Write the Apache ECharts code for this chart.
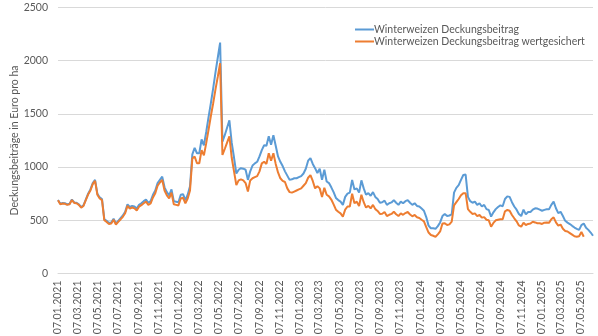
<!DOCTYPE html>
<html>
<head>
<meta charset="utf-8">
<script src="https://cdn.jsdelivr.net/npm/echarts@6/dist/echarts.min.js"></script>
<style>html,body{margin:0;padding:0;background:#fff}#c{width:598px;height:336px}</style>
</head>
<body>
<div id="c"></div>
<script>
// Axis range (first and last weekly date, Thursdays)
const startDate = '2021-01-07';
const endDate = '2025-06-12';
const yTicks = [0, 500, 1000, 1500, 2000, 2500];
const seriesNames = ['Winterweizen Deckungsbeitrag', 'Winterweizen Deckungsbeitrag wertgesichert'];
const yAxisTitle = 'Deckungsbeiträge in Euro pro ha';

// Weekly values, starting 07.01.2021
const deckungsbeitrag = [
690,655,662,660,650,655,695,668,665,650,625,640,695,750,790,850,880,750,715,700,
510,495,475,480,515,470,495,520,545,580,650,625,635,630,610,645,660,680,695,665,
680,740,780,850,880,910,810,765,735,790,680,675,670,740,745,690,740,820,1120,1180,
1130,1130,1260,1205,1330,1470,1600,1740,1890,2030,2170,1240,1300,1370,1440,1230,1090,940,975,990,
985,975,880,960,1015,1035,1050,1100,1160,1205,1200,1290,1210,1300,1200,1100,1050,1010,960,920,
880,885,895,895,905,915,940,985,1060,1085,1030,990,945,985,880,975,865,850,810,765,
710,690,675,645,720,750,760,880,790,800,760,875,800,740,755,730,765,720,700,665,
670,685,645,660,668,690,665,645,675,660,680,690,665,645,660,635,630,610,590,530,
450,425,425,420,445,480,540,560,540,545,555,760,805,830,880,926,930,720,680,665,
675,645,660,630,645,605,597,535,575,605,625,640,632,700,725,720,670,630,600,560,
540,600,556,578,578,600,613,610,600,590,598,603,603,645,675,613,568,580,540,495,
478,465,448,432,420,410,455,470,430,410,385,355
];
const deckungsbeitragWertgesichert = [
688,650,658,655,645,650,690,663,660,645,618,635,690,742,780,840,870,740,705,690,
500,485,466,470,505,460,485,508,533,566,636,610,620,612,592,628,642,660,675,645,
658,715,755,825,855,880,780,735,705,760,650,645,640,705,712,660,705,780,1080,1100,
1036,1036,1160,1110,1225,1350,1480,1600,1730,1850,1976,1114,1170,1230,1290,1090,960,830,875,885,
875,850,770,875,895,905,915,960,1035,1050,1030,1130,1060,1130,1030,950,895,870,860,800,
765,760,770,780,790,800,825,850,900,925,870,800,820,800,720,805,740,725,695,650,
600,580,565,535,600,630,630,750,660,675,635,740,670,620,635,612,645,605,588,560,
562,578,540,552,560,580,557,540,565,552,568,578,555,538,550,528,522,505,490,435,
385,362,355,345,368,395,470,472,456,462,487,640,670,700,735,754,755,605,580,560,
565,540,550,525,530,505,500,440,475,500,505,510,510,585,597,590,550,519,490,452,
440,478,456,466,470,487,480,472,472,466,478,480,476,510,528,480,450,460,420,400,
395,380,365,350,346,350,390,345
];

function fmt(d) {
  const dd = String(d.getUTCDate()).padStart(2, '0');
  const mm = String(d.getUTCMonth() + 1).padStart(2, '0');
  return dd + '.' + mm + '.' + d.getUTCFullYear();
}
const DAY = 86400000;
const t0 = Date.parse(startDate + 'T00:00:00Z');
const t1 = Date.parse(endDate + 'T00:00:00Z');
const days = [];
for (let t = t0; t <= t1; t += DAY) days.push(fmt(new Date(t)));
function weekly(vals) {
  return vals.map((v, i) => [fmt(new Date(t0 + i * 7 * DAY)), v]);
}

const FONT = 'Lato';
const GREY = '#595959';
const chart = echarts.init(document.getElementById('c'), null, {renderer: 'canvas'});
chart.setOption({
  animation: false,
  textStyle: {fontFamily: FONT},
  grid: {left: 58, right: 5, top: 7.5, bottom: 62.5, containLabel: false, outerBoundsMode: 'none'},
  legend: {
    orient: 'vertical', left: 350, top: 19, itemWidth: 19, itemHeight: 2, itemGap: 1,
    icon: 'rect',
    textStyle: {fontFamily: FONT, fontSize: 10.5, color: GREY, padding: [0, 0, 0, -5]},
    data: seriesNames
  },
  xAxis: {
    type: 'category', data: days, boundaryGap: false,
    axisLine: {show: true, lineStyle: {color: '#D9D9D9', width: 1}},
    axisTick: {show: false},
    splitLine: {show: false},
    axisLabel: {
      rotate: 90, margin: 7, color: GREY, fontFamily: FONT, fontSize: 10.5,
      interval: function (idx, val) {
        return val.slice(0, 3) === '07.' && (parseInt(val.slice(3, 5), 10) % 2 === 1);
      }
    }
  },
  yAxis: {
    type: 'value', min: yTicks[0], max: yTicks[yTicks.length - 1], interval: 500,
    name: yAxisTitle, nameLocation: 'middle', nameRotate: 90, nameGap: 38,
    nameMoveOverlap: false,
    nameTextStyle: {fontFamily: FONT, fontSize: 10.5, color: GREY},
    axisLine: {show: false}, axisTick: {show: false},
    axisLabel: {margin: 10, color: GREY, fontFamily: FONT, fontSize: 10.5,
      formatter: function (v) { return String(v); }},
    splitLine: {lineStyle: {color: '#D9D9D9', width: 1}}
  },
  series: [
    {name: seriesNames[0], type: 'line', symbol: 'none', data: weekly(deckungsbeitrag),
     lineStyle: {color: '#5B9BD5', width: 2}, itemStyle: {color: '#5B9BD5'}},
    {name: seriesNames[1], type: 'line', symbol: 'none', data: weekly(deckungsbeitragWertgesichert),
     lineStyle: {color: '#ED7D31', width: 2}, itemStyle: {color: '#ED7D31'}}
  ]
});
</script>
</body>
</html>
